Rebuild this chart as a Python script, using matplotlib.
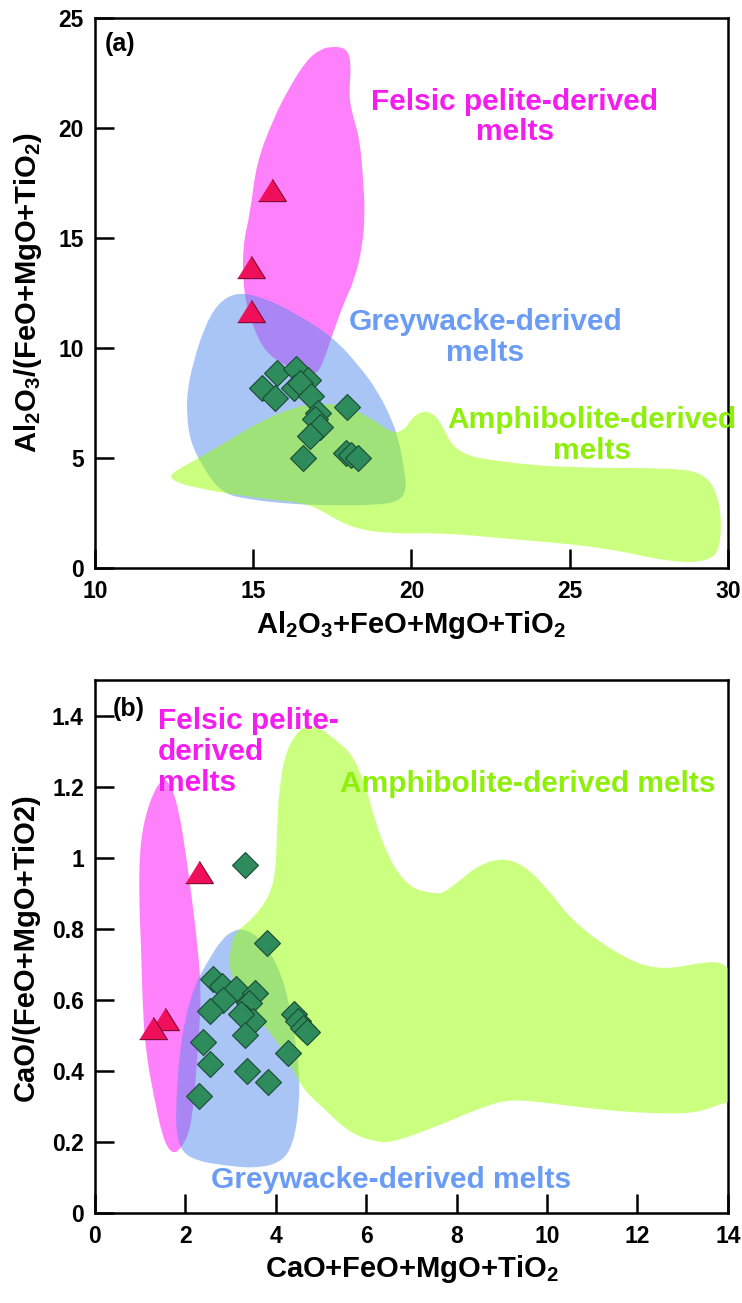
import matplotlib
matplotlib.use("Agg")
import matplotlib.pyplot as plt
from matplotlib.patches import PathPatch
from matplotlib.path import Path

plt.rcParams['font.family'] = 'Liberation Sans'
plt.rcParams['font.weight'] = 'bold'
plt.rcParams['mathtext.fontset'] = 'custom'
plt.rcParams['mathtext.rm'] = 'Liberation Sans:bold'
plt.rcParams['mathtext.bf'] = 'Liberation Sans:bold'
plt.rcParams['mathtext.default'] = 'rm'

# ---- panel (a) data ----
a_tri_x = [15.6, 14.93, 14.93]
a_tri_y = [17.2, 13.7, 11.7]
a_dia_x = [15.74, 16.34, 16.74, 15.27, 15.69, 16.30, 16.48, 16.82, 17.06, 16.95, 17.12,
           17.95, 16.79, 16.58, 17.92, 18.10, 18.32]
a_dia_y = [8.85, 9.05, 8.55, 8.17, 7.71, 8.20, 8.40, 7.80, 7.03, 6.75, 6.42,
           7.30, 6.02, 4.99, 5.22, 5.12, 4.99]

# field outlines (x, y) for panel (a)
a_pelite_x = [17.42, 17.95, 18.1, 18.02, 18.16, 18.37, 18.48, 18.53, 18.45, 18.2, 17.85,
              17.5, 17.25, 17.0, 16.5, 16.0, 15.4, 15.0, 14.7, 14.66, 14.9, 15.1, 15.63,
              16.16, 16.7, 17.1]
a_pelite_y = [23.7, 23.65, 22.95, 21.4, 20.5, 19.45, 17.6, 16.1, 14.6, 13.1, 12.0,
              10.6, 9.5, 8.75, 8.9, 9.2, 9.8, 10.9, 12.4, 14.6, 16.1, 18.4, 20.4,
              21.9, 23.1, 23.55]
a_grey_x = [14.48, 15.3, 16.26, 17.52, 18.37, 18.9, 19.3, 19.58, 19.76, 19.85, 19.64,
            18.9, 17.3, 16.26, 14.9, 14.0, 13.4, 13.0, 12.9, 12.92, 13.1, 13.42, 13.85]
a_grey_y = [12.55, 12.3, 11.65, 10.5, 9.15, 8.1, 7.0, 5.95, 4.6, 3.6, 3.05,
            2.85, 2.85, 2.9, 3.1, 3.4, 4.6, 5.8, 7.0, 8.1, 9.3, 10.8, 12.0]
a_amph_x = [12.4, 13.1, 14.17, 15.2, 16.26, 17.1, 17.96, 18.8, 19.4, 19.8, 19.95,
            20.27, 20.6, 20.9, 21.4, 22.9, 25.0, 28.2, 29.3, 29.75, 29.8, 29.5,
            28.2, 26.05, 22.9, 20.9, 19.4, 18.15, 17.33, 16.7, 15.2, 13.1, 12.4]
a_amph_y = [4.3, 4.85, 5.75, 6.65, 7.3, 7.5, 7.35, 6.75, 6.1, 6.3, 6.7,
            7.1, 7.1, 6.7, 5.2, 4.8, 4.55, 4.55, 4.3, 3.1, 1.2, 0.3,
            0.25, 0.95, 1.35, 1.6, 1.55, 1.8, 2.45, 2.95, 3.15, 3.65, 4.0]

# ---- panel (b) data ----
b_tri_x = [2.29, 1.55, 1.28]
b_tri_y = [0.96, 0.545, 0.52]
b_dia_x = [3.32, 3.80, 2.60, 2.80, 3.13, 3.54, 2.84, 2.54, 3.40, 3.35, 3.50, 3.22,
           3.32, 4.40, 4.48, 4.60, 4.70, 4.28, 2.40, 2.54, 3.37, 3.82, 2.30]
b_dia_y = [0.98, 0.76, 0.66, 0.64, 0.63, 0.62, 0.60, 0.57, 0.59, 0.55, 0.54, 0.56,
           0.50, 0.56, 0.54, 0.52, 0.51, 0.45, 0.48, 0.42, 0.40, 0.37, 0.33]

b_pelite_x = [1.5, 1.2, 1.0, 0.97, 1.02, 1.06, 1.14, 1.3, 1.5, 1.7, 1.9, 2.1, 2.2,
              2.3, 2.35, 2.28, 2.15, 2.0, 1.86, 1.7]
b_pelite_y = [1.23, 1.16, 1.05, 0.9, 0.75, 0.56, 0.44, 0.33, 0.21, 0.165, 0.18, 0.23, 0.33,
              0.5, 0.62, 0.74, 0.88, 1.02, 1.13, 1.2]
b_grey_x = [3.28, 3.6, 3.9, 4.12, 4.28, 4.42, 4.52, 4.52, 4.38, 4.1, 3.5, 2.8, 2.3,
            1.92, 1.79, 1.8, 1.86, 2.0, 2.2, 2.5, 2.8, 3.05]
b_grey_y = [0.80, 0.78, 0.73, 0.67, 0.6, 0.5, 0.4, 0.3, 0.19, 0.14, 0.125, 0.135, 0.145,
            0.17, 0.23, 0.32, 0.44, 0.55, 0.64, 0.71, 0.77, 0.795]
b_amph_x = [3.1, 3.5, 3.85, 4.0, 4.03, 4.08, 4.22, 4.5, 4.75, 5.05, 5.35, 5.7, 6.0,
            6.2, 6.5, 6.8, 7.1, 7.5, 7.7, 8.1, 8.5, 9.0, 9.5, 10.1, 10.5, 11.4,
            12.4, 13.6, 13.95, 14.3, 14.3, 13.9, 13.3, 12.3, 11.2, 10.0, 9.2, 8.6,
            7.5, 6.5, 6.1, 5.85, 5.5, 5.1, 4.75, 4.5, 4.15, 3.85, 3.55, 3.2, 3.0,
            2.97, 3.03]
b_amph_y = [0.79, 0.83, 0.89, 0.96, 1.1, 1.2, 1.3, 1.36, 1.375, 1.36, 1.33, 1.29, 1.2,
            1.1, 1.0, 0.94, 0.91, 0.9, 0.9, 0.94, 0.98, 1.0, 0.98, 0.9, 0.83, 0.74,
            0.68, 0.71, 0.70, 0.65, 0.32, 0.31, 0.28, 0.28, 0.29, 0.31, 0.32, 0.30,
            0.24, 0.195, 0.205, 0.215, 0.24, 0.29, 0.33, 0.37, 0.46, 0.51, 0.56, 0.62, 0.67,
            0.72, 0.76]

pink = '#ff80fb'
blue = (0.33, 0.55, 0.93)
green = (0.6, 1.0, 0.0)
tri_marker = [(-1, -0.8), (1, -0.8), (0, 0.8)]


def field(ax, xs, ys, **kw):
    # closed outline drawn as a smooth quadratic curve with the read points as control points
    pts = list(zip(xs, ys))
    n = len(pts)
    mids = [((pts[i][0] + pts[(i + 1) % n][0]) / 2, (pts[i][1] + pts[(i + 1) % n][1]) / 2)
            for i in range(n)]
    verts = [mids[-1]]
    codes = [Path.MOVETO]
    for i in range(n):
        verts += [pts[i], mids[i]]
        codes += [Path.CURVE3, Path.CURVE3]
    verts.append(mids[-1])
    codes.append(Path.CLOSEPOLY)
    ax.add_patch(PathPatch(Path(verts, codes), ec='none', **kw))


def fields(ax, px, py, gx, gy, mx, my):
    field(ax, px, py, fc=pink, zorder=1)
    field(ax, gx, gy, fc=blue, alpha=0.5, zorder=2)
    field(ax, mx, my, fc=green, alpha=0.5, zorder=3)


def style(ax):
    for s in ax.spines.values():
        s.set_linewidth(1.8)
    ax.tick_params(direction='in', length=13.5, width=1.8, labelsize=16.5,
                   top=False, right=False)
    ax.tick_params(axis='y', pad=8)
    ax.tick_params(axis='x', pad=9)


fig = plt.figure(figsize=(7.42, 13.03), dpi=100)
ax1 = fig.add_axes([0.128, 0.5641, 0.853, 0.4221])
ax2 = fig.add_axes([0.128, 0.0692, 0.853, 0.4086])

# (a)
fields(ax1, a_pelite_x, a_pelite_y, a_grey_x, a_grey_y, a_amph_x, a_amph_y)
ax1.plot(a_dia_x, a_dia_y, ls='none', marker='D', ms=13.5, mfc='#2e8b5c', mec='#1b4a33',
         mew=0.8, zorder=5)
ax1.plot(a_tri_x, a_tri_y, ls='none', marker=tri_marker, ms=20, mfc='#ef0f5a', mec='#7a0a2e',
         mew=0.8, zorder=6)
ax1.set_xlim(10, 30)
ax1.set_ylim(0, 25)
ax1.set_xticks([10, 15, 20, 25, 30])
ax1.set_yticks([0, 5, 10, 15, 20, 25])
style(ax1)
ax1.set_xlabel(r'Al$_2$O$_3$+FeO+MgO+TiO$_2$', fontsize=21, fontweight='bold')
ax1.set_ylabel(r'Al$_2$O$_3$/(FeO+MgO+TiO$_2$)', fontsize=21, fontweight='bold')
ax1.xaxis.set_label_coords(0.5, -0.075)
ax1.yaxis.set_label_coords(-0.08, 0.5)
ax1.text(10.3, 23.8, '(a)', fontsize=18, fontweight='bold', va='center', ha='left')
ax1.text(23.27, 20.5, 'Felsic pelite-derived\nmelts', color='#f51cf0', fontsize=21.5,
         fontweight='bold', ha='center', va='center', linespacing=1.13)
ax1.text(22.34, 10.48, 'Greywacke-derived\nmelts', color='#6b9cf5', fontsize=21.5,
         fontweight='bold', ha='center', va='center', linespacing=1.13)
ax1.text(25.7, 6.02, 'Amphibolite-derived\nmelts', color='#8ef00a', fontsize=21.5,
         fontweight='bold', ha='center', va='center', linespacing=1.13, clip_on=False)

# (b)
fields(ax2, b_pelite_x, b_pelite_y, b_grey_x, b_grey_y, b_amph_x, b_amph_y)
ax2.plot(b_dia_x, b_dia_y, ls='none', marker='D', ms=13.5, mfc='#2e8b5c', mec='#1b4a33',
         mew=0.8, zorder=5)
ax2.plot(b_tri_x, b_tri_y, ls='none', marker=tri_marker, ms=20, mfc='#ef0f5a', mec='#7a0a2e',
         mew=0.8, zorder=6)
ax2.set_xlim(0, 14)
ax2.set_ylim(0, 1.5)
ax2.set_xticks(range(0, 15, 2))
ax2.set_yticks([0, 0.2, 0.4, 0.6, 0.8, 1.0, 1.2, 1.4])
ax2.set_yticklabels(['0', '0.2', '0.4', '0.6', '0.8', '1', '1.2', '1.4'])
style(ax2)
ax2.set_xlabel(r'CaO+FeO+MgO+TiO$_2$', fontsize=21, fontweight='bold')
ax2.set_ylabel('CaO/(FeO+MgO+TiO2)', fontsize=21, fontweight='bold')
ax2.xaxis.set_label_coords(0.5, -0.075)
ax2.yaxis.set_label_coords(-0.088, 0.5)
ax2.text(0.4, 1.42, '(b)', fontsize=18, fontweight='bold', va='center', ha='left')
ax2.text(1.39, 1.298, 'Felsic pelite-\nderived\nmelts', color='#f51cf0', fontsize=21.5,
         fontweight='bold', ha='left', va='center', linespacing=1.13)
ax2.text(9.58, 1.207, 'Amphibolite-derived melts', color='#8ef00a', fontsize=21.5,
         fontweight='bold', ha='center', va='center')
ax2.text(6.54, 0.093, 'Greywacke-derived melts', color='#6b9cf5', fontsize=21.5,
         fontweight='bold', ha='center', va='center')

fig.savefig('out.png', dpi=100)
